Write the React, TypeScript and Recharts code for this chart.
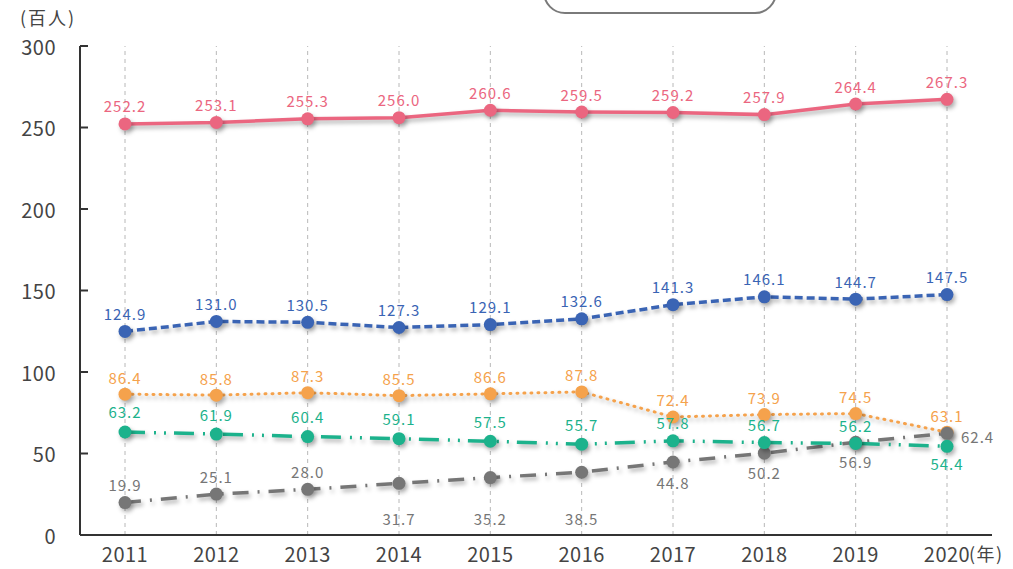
import { LabelList, Line, LineChart, ReferenceLine, XAxis, YAxis } from "recharts";

const years = ["2011", "2012", "2013", "2014", "2015", "2016", "2017", "2018", "2019", "2020"];
const redSeries = [252.2, 253.1, 255.3, 256.0, 260.6, 259.5, 259.2, 257.9, 264.4, 267.3];
const blueSeries = [124.9, 131.0, 130.5, 127.3, 129.1, 132.6, 141.3, 146.1, 144.7, 147.5];
const orangeSeries = [86.4, 85.8, 87.3, 85.5, 86.6, 87.8, 72.4, 73.9, 74.5, 63.1];
const greenSeries = [63.2, 61.9, 60.4, 59.1, 57.5, 55.7, 57.8, 56.7, 56.2, 54.4];
const graySeries = [19.9, 25.1, 28.0, 31.7, 35.2, 38.5, 44.8, 50.2, 56.9, 62.4];
const yTicks = [0, 50, 100, 150, 200, 250, 300];

const data = years.map((year, i) => ({
  year,
  red: redSeries[i],
  blue: blueSeries[i],
  orange: orangeSeries[i],
  green: greenSeries[i],
  gray: graySeries[i],
}));

const FONT = '"Noto Sans CJK JP", "Noto Sans", sans-serif';
const C = {
  red: "#eb6680",
  blue: "#3a64b4",
  orange: "#f5a24c",
  green: "#1cb28c",
  gray: "#767676",
};

// label offsets (dy from the point); "r" = to the right of the point
const greenDy = [-20, -20, -20, -20, -20, -20, -18, -18, -18, 17];
const grayDy: (number | "r")[] = [-18, -18, -18, 35, 41, 46, 21, 19, 19, "r"];

function makeLabel(color: string, offsets?: (number | "r")[], base = -18) {
  return (props: any) => {
    const { x, y, value, index } = props;
    const o = offsets ? offsets[index] : base;
    const isRight = o === "r";
    return (
      <text
        x={isRight ? x + 14 : x}
        y={isRight ? y + 3 : y + (o as number)}
        textAnchor={isRight ? "start" : "middle"}
        dominantBaseline="central"
        fill={color}
        fontSize={15}
        fontFamily={FONT}
        letterSpacing={1}
      >
        {Number(value).toFixed(1)}
      </text>
    );
  };
}

const YTick = (props: any) => {
  const { x, y, payload } = props;
  return (
    <g>
      <line x1={x} x2={x + 8} y1={y} y2={y} stroke="#333" strokeWidth={2} />
      <text x={x - 24} y={y} textAnchor="end" dominantBaseline="central" fill="#444" fontSize={20} letterSpacing={0.5} fontFamily={FONT}>
        {payload.value}
      </text>
    </g>
  );
};

const XTick = (props: any) => {
  const { x, y, payload, index } = props;
  return (
    <g>
      <text x={x} y={y + 16} textAnchor="middle" dominantBaseline="central" fill="#444" fontSize={20} letterSpacing={0.5} fontFamily={FONT}>
        {payload.value}
      </text>
      {index === years.length - 1 && (
        <text x={x + 22} y={y + 16} dominantBaseline="central" fill="#444" fontSize={18} letterSpacing={1.5} fontFamily={FONT}>
          (年)
        </text>
      )}
    </g>
  );
};

const dot = (color: string) => ({ r: 6.5, fill: color, stroke: "none" });

export default function App() {
  return (
    <div style={{ position: "fixed", left: 0, top: 0, width: 1013, height: 569, background: "#fff", overflow: "hidden", fontFamily: FONT }}>
      <style>{`.shd .recharts-line-curve, .shd .recharts-line-dots circle { filter: drop-shadow(2px 3px 2px rgba(0,0,0,0.3)); }`}</style>
      <div
        style={{
          position: "absolute",
          left: 543,
          top: -38,
          width: 230,
          height: 48,
          border: "2px solid #7a7a7a",
          borderRadius: 22,
          background: "#fff",
        }}
      />
      <div style={{ position: "absolute", left: 20, top: 4, fontSize: 18, color: "#444", letterSpacing: 2 }}>(百人)</div>
      <LineChart
        className="shd"
        width={1013}
        height={569}
        data={data}
        margin={{ top: 46, right: 21, bottom: 0, left: 0 }}
      >
        {years.map((yr) => (
          <ReferenceLine key={yr} x={yr} stroke="#b8b8b8" strokeDasharray="4 4" />
        ))}
        <XAxis
          dataKey="year"
          height={34}
          padding={{ left: 45, right: 45 }}
          axisLine={{ stroke: "#333", strokeWidth: 2 }}
          tickLine={false}
          tickSize={0}
          tick={<XTick />}
          interval={0}
        />
        <YAxis
          width={80}
          domain={[0, 300]}
          ticks={yTicks}
          axisLine={{ stroke: "#333", strokeWidth: 2 }}
          tickLine={false}
          tickSize={0}
          tickMargin={0}
          tick={<YTick />}
        />
        <Line dataKey="red" stroke={C.red} strokeWidth={3.5} dot={dot(C.red)} isAnimationActive={false}>
          <LabelList dataKey="red" content={makeLabel(C.red)} />
        </Line>
        <Line dataKey="blue" stroke={C.blue} strokeWidth={3.5} strokeDasharray="8 4" dot={dot(C.blue)} isAnimationActive={false}>
          <LabelList dataKey="blue" content={makeLabel(C.blue)} />
        </Line>
        <Line dataKey="orange" stroke={C.orange} strokeWidth={3} strokeDasharray="1 6" strokeLinecap="round" dot={dot(C.orange)} isAnimationActive={false}>
          <LabelList dataKey="orange" content={makeLabel(C.orange, undefined, -17)} />
        </Line>
        <Line dataKey="gray" stroke={C.gray} strokeWidth={3.5} strokeDasharray="16 9 2 9" dot={dot(C.gray)} isAnimationActive={false}>
          <LabelList dataKey="gray" content={makeLabel(C.gray, grayDy)} />
        </Line>
        <Line dataKey="green" stroke={C.green} strokeWidth={3.5} strokeDasharray="20 9 2 8 2 8" dot={dot(C.green)} isAnimationActive={false}>
          <LabelList dataKey="green" content={makeLabel(C.green, greenDy)} />
        </Line>
      </LineChart>
    </div>
  );
}
